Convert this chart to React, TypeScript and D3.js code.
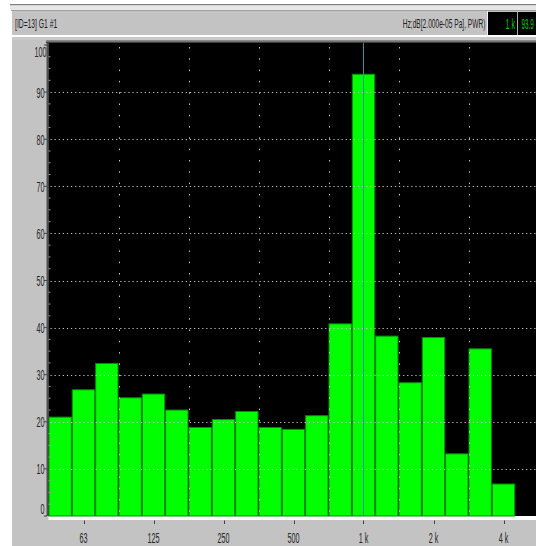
import React from "react";
import * as d3 from "d3";

// 1/3-octave band spectrum
const bandFreqs = [50, 63, 80, 100, 125, 160, 200, 250, 315, 400, 500, 630, 800, 1000, 1250, 1600, 2000, 2500, 3150, 4000];
const bandLevels = [21.1, 26.9, 32.5, 25.2, 26.0, 22.6, 18.9, 20.6, 22.3, 18.9, 18.5, 21.4, 40.9, 93.9, 38.3, 28.4, 38.0, 13.3, 35.6, 6.9];

const xTickFreqs = [62.5, 125, 250, 500, 1000, 2000, 4000];
const xTickLabels = ["63", "125", "250", "500", "1 k", "2 k", "4 k"];
const yTicks = [0, 10, 20, 30, 40, 50, 60, 70, 80, 90, 100];

const headerLeft = "[ID=13] G1 #1";
const headerUnits = "Hz;dB[2.000e-05 Pa], PWR)";
const cursorFreq = 1000;
const cursorFreqLabel = "1 k";
const cursorValueLabel = "93.9";

const W = 536;
const H = 546;
const plotLeft = 48.5;
const plotTop = 43;
const plotBottom = 516;
const octavePx = 70;
const fLow = 1000 / Math.pow(2, 4.5);
const fHigh = 8000;

const FONT = "'Liberation Sans', Arial, sans-serif";

const x = d3
  .scaleLog()
  .domain([fLow, fHigh])
  .range([plotLeft, plotLeft + octavePx * Math.log2(fHigh / fLow)]);
const y = d3.scaleLinear().domain([0, 100]).range([516, 45]);

// exact band centre for a nominal 1/3-octave frequency
const bandCentre = (f: number) => 1000 * Math.pow(2, Math.round(3 * Math.log2(f / 1000)) / 3);

function Narrow({
  x: tx,
  y: ty,
  anchor = "start",
  size = 15,
  sx = 0.48,
  fill = "#262626",
  children,
}: {
  x: number;
  y: number;
  anchor?: "start" | "middle" | "end";
  size?: number;
  sx?: number;
  fill?: string;
  children: React.ReactNode;
}) {
  return (
    <g transform={`translate(${tx},${ty}) scale(${sx},1)`}>
      <text textAnchor={anchor} fontSize={size} fontFamily={FONT} fill={fill}>
        {children}
      </text>
    </g>
  );
}

export default function App() {
  const gridFreqs = d3.range(-4, 3).map((n) => 1000 * Math.pow(2, n + 0.5));
  const minorTicks = d3.range(0, 100.01, 2.5).filter((v) => v % 10 !== 0);

  return (
    <svg
      width={W}
      height={H}
      style={{ position: "fixed", left: 0, top: 0, display: "block", background: "#ffffff" }}
    >
      {/* window chrome */}
      <rect x={10} y={4} width={W - 10} height={1.5} fill="#808080" />
      <rect x={10} y={5.5} width={W - 10} height={4.5} fill="#e6e6e6" />
      <rect x={11} y={10} width={W - 11} height={1} fill="#a0a0a0" />
      <rect x={12} y={11} width={W - 12} height={24} fill="#c3c3c3" />
      <rect x={12} y={35} width={W - 12} height={2} fill="#ffffff" />
      <rect x={12} y={37} width={W - 12} height={3} fill="#c8c8c8" />
      <rect x={12} y={40} width={W - 12} height={H - 40} fill="#c3c3c3" />
      <rect x={46} y={40} width={W - 46} height={1.5} fill="#8a8a8a" />
      <rect x={46} y={41.5} width={W - 46} height={1.5} fill="#404040" />

      {/* header */}
      <Narrow x={15} y={28} size={13} sx={0.52} fill="#202020">
        {headerLeft}
      </Narrow>
      <Narrow x={485.5} y={28} size={13} sx={0.51} anchor="end" fill="#202020">
        {headerUnits}
      </Narrow>
      <rect x={487} y={11} width={1} height={24} fill="#f0f0f0" />
      <rect x={488} y={12} width={29} height={23} fill="#000000" />
      <rect x={517} y={12} width={1} height={23} fill="#a8a8a8" />
      <rect x={518} y={12} width={W - 518} height={23} fill="#000000" />
      <Narrow x={515} y={29} size={15} sx={0.48} anchor="end" fill="#00c800">
        {cursorFreqLabel}
      </Narrow>
      <Narrow x={521.5} y={29} size={15} sx={0.42} fill="#00c800">
        {cursorValueLabel}
      </Narrow>

      {/* plot area */}
      <rect x={46.5} y={43} width={2} height={plotBottom - plotTop} fill="#505050" />
      <rect x={plotLeft} y={plotTop} width={W - plotLeft} height={plotBottom - plotTop} fill="#000000" />
      <rect x={plotLeft} y={plotBottom} width={W - plotLeft} height={4} fill="#ffffff" />

      {/* bars */}
      {bandFreqs.map((f, i) => {
        const fc = bandCentre(f);
        const x0 = x(fc / Math.pow(2, 1 / 6));
        const x1 = x(fc * Math.pow(2, 1 / 6));
        const top = y(bandLevels[i]);
        return (
          <rect
            key={f}
            x={x0 + 0.5}
            y={top + 0.5}
            width={x1 - x0 - 1}
            height={y(0) - top - 0.5}
            fill="#00ff00"
            stroke="#009000"
            strokeWidth={1}
          />
        );
      })}

      {/* grid */}
      {yTicks
        .filter((v) => v > 0 && v < 100)
        .map((v) => (
          <line
            key={`hg${v}`}
            x1={plotLeft + 2}
            x2={W}
            y1={Math.round(y(v)) + 0.5}
            y2={Math.round(y(v)) + 0.5}
            stroke="#c8c8c8"
            strokeWidth={1}
            strokeDasharray="1.2,2.9"
          />
        ))}
      {gridFreqs
        .filter((f) => x(f) > plotLeft + 2 && x(f) < W)
        .map((f) => (
          <line
            key={`vg${f}`}
            x1={Math.round(x(f)) + 0.5}
            x2={Math.round(x(f)) + 0.5}
            y1={plotTop + 4}
            y2={plotBottom}
            stroke="#c8c8c8"
            strokeWidth={1}
            strokeDasharray="1.5,9.8"
          />
        ))}
      {minorTicks.map((v) => (
        <line
          key={`mt${v}`}
          x1={plotLeft}
          x2={plotLeft + 2}
          y1={y(v)}
          y2={y(v)}
          stroke="#9a9a9a"
          strokeWidth={1}
        />
      ))}

      {/* cursor */}
      <line
        x1={Math.round(x(cursorFreq)) + 0.5}
        x2={Math.round(x(cursorFreq)) + 0.5}
        y1={plotTop}
        y2={plotBottom}
        stroke="#1f9a9a"
        strokeWidth={1}
      />

      {/* y axis */}
      {yTicks.map((v) => {
        const cy = y(v);
        const ly = Math.max(51, Math.min(508, cy));
        return (
          <g key={`yt${v}`}>
            <line x1={44} x2={47} y1={cy} y2={cy} stroke="#404040" strokeWidth={1} />
            <Narrow x={v === 100 ? 46.5 : 44.5} y={ly + 5.5} anchor="end">
              {v}
            </Narrow>
          </g>
        );
      })}

      {/* x axis */}
      {xTickFreqs.map((f, i) => (
        <g key={`xt${f}`}>
          <line
            x1={Math.round(x(f)) + 0.5}
            x2={Math.round(x(f)) + 0.5}
            y1={520.5}
            y2={524}
            stroke="#404040"
            strokeWidth={1}
          />
          <Narrow x={x(f)} y={543} anchor="middle">
            {xTickLabels[i]}
          </Narrow>
        </g>
      ))}
    </svg>
  );
}
